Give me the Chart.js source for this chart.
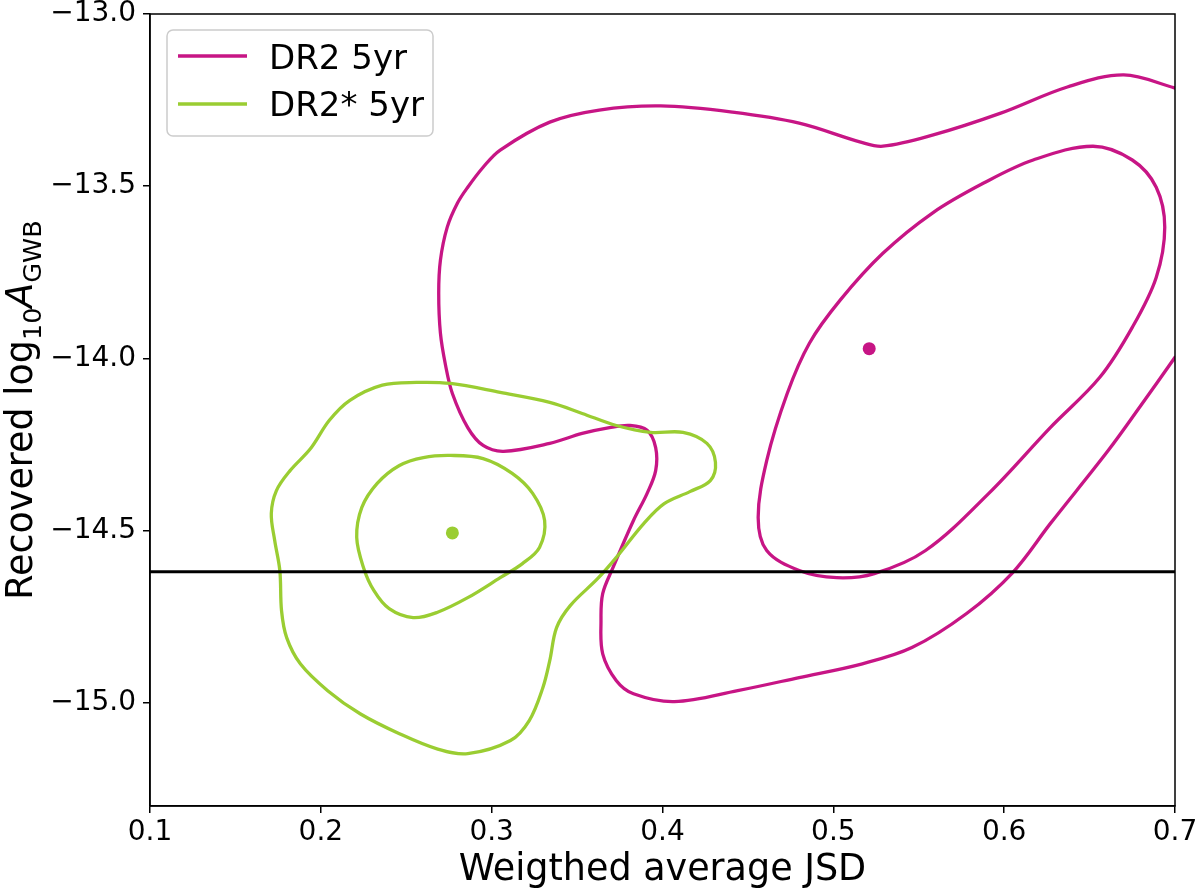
<!DOCTYPE html>
<html>
<head>
<meta charset="utf-8">
<script src="https://cdn.jsdelivr.net/npm/chart.js@4.4.1/dist/chart.umd.min.js"></script>
<style>
html, body { margin: 0; padding: 0; background: #fff; }
canvas { display: block; }
</style>
</head>
<body>
<canvas id="c" width="1200" height="896"></canvas>
<script>
// ---------------- data ----------------
const seriesNames = ['DR2 5yr', 'DR2* 5yr'];
const seriesColors = ['#c71585', '#9acd32'];
const xLimits = [0.1, 0.7];
const yLimits = [-15.3, -13.0];
const xTicks = [0.1, 0.2, 0.3, 0.4, 0.5, 0.6, 0.7];
const yTicks = [-15.0, -14.5, -14.0, -13.5, -13.0];
const xTitle = 'Weigthed average JSD';
const refLevel = -14.62;

// peak (maximum-likelihood) points
const dr2Peak  = [[0.521, -13.972]];
const dr2sPeak = [[0.277, -14.507]];

// DR2 5yr: inner contour (closed)
const dr2Inner = [
  [0.652,-13.384],[0.675,-13.424],[0.689,-13.503],[0.694,-13.619],[0.689,-13.765],
  [0.675,-13.910],[0.656,-14.055],[0.627,-14.201],[0.591,-14.392],[0.554,-14.558],
  [0.524,-14.625],[0.502,-14.637],[0.480,-14.616],[0.461,-14.558],[0.456,-14.462],
  [0.461,-14.297],[0.473,-14.102],[0.486,-13.956],[0.504,-13.831],[0.529,-13.695],
  [0.558,-13.578],[0.588,-13.491],[0.617,-13.424]
];
// DR2 5yr: outer contour (runs off the right edge of the axes)
const dr2Outer = [
  [0.700,-13.215],[0.670,-13.177],[0.637,-13.212],[0.598,-13.288],[0.558,-13.352],
  [0.529,-13.384],[0.516,-13.372],[0.480,-13.317],[0.441,-13.285],[0.399,-13.267],
  [0.363,-13.279],[0.334,-13.314],[0.305,-13.395],[0.295,-13.445],[0.286,-13.503],
  [0.280,-13.549],[0.274,-13.619],
  [0.270,-13.715],[0.269,-13.811],[0.270,-13.927],[0.273,-14.020],[0.277,-14.102],
  [0.286,-14.201],[0.295,-14.253],[0.307,-14.270],[0.334,-14.247],[0.353,-14.218],
  [0.369,-14.201],[0.381,-14.195],[0.391,-14.209],[0.396,-14.259],[0.396,-14.326],
  [0.391,-14.392],[0.383,-14.471],[0.371,-14.608],[0.365,-14.683],[0.364,-14.762],
  [0.365,-14.858],[0.373,-14.936],[0.383,-14.974],[0.407,-14.997],[0.444,-14.965],[0.480,-14.927],
  [0.517,-14.887],[0.546,-14.840],[0.578,-14.741],[0.605,-14.622],[0.627,-14.480],
  [0.661,-14.267],[0.680,-14.137],[0.700,-13.997]
];
// DR2* 5yr: inner contour (closed)
const dr2sInner = [
  [0.276,-14.282],[0.295,-14.291],[0.312,-14.334],[0.324,-14.392],[0.331,-14.471],
  [0.328,-14.549],[0.318,-14.596],[0.305,-14.637],[0.286,-14.695],[0.268,-14.738],
  [0.254,-14.753],[0.240,-14.727],[0.231,-14.674],[0.225,-14.608],[0.221,-14.520],
  [0.224,-14.433],[0.233,-14.363],[0.246,-14.311],[0.260,-14.288]
];
// DR2* 5yr: outer contour (closed)
const dr2sOuter = [
  [0.256,-14.070],[0.276,-14.073],[0.305,-14.099],[0.334,-14.128],[0.353,-14.160],
  [0.373,-14.195],[0.393,-14.215],[0.412,-14.215],[0.426,-14.247],[0.431,-14.302],
  [0.428,-14.355],[0.416,-14.387],[0.401,-14.422],[0.389,-14.480],[0.373,-14.578],
  [0.362,-14.640],[0.346,-14.718],[0.338,-14.782],[0.334,-14.878],[0.330,-14.956],
  [0.322,-15.052],[0.311,-15.110],[0.286,-15.148],[0.268,-15.134],[0.246,-15.090],
  [0.223,-15.032],[0.204,-14.965],[0.188,-14.887],[0.180,-14.811],[0.177,-14.733],
  [0.176,-14.616],[0.173,-14.529],[0.171,-14.451],[0.174,-14.384],[0.182,-14.326],
  [0.194,-14.262],[0.205,-14.180],[0.217,-14.122],[0.236,-14.078]
];

// ---------------- helpers ----------------
const toXY = arr => arr.map(p => ({ x: p[0], y: p[1] }));
const FONT = '"DejaVu Sans", "Liberation Sans", sans-serif';
const fmtSigned = v => (v < 0 ? '\u2212' : '') + Math.abs(v).toFixed(1);

function contour(data, color, closed) {
  return {
    data: toXY(data), closed: closed,
    borderColor: color, backgroundColor: color, borderWidth: 3.3,
    pointRadius: 0, pointHoverRadius: 0, tension: 0.35, fill: false,
    showLine: true, borderJoinStyle: 'round', borderCapStyle: 'round'
  };
}
function peak(data, color) {
  return {
    data: toXY(data), showLine: false, pointRadius: 6.5, pointHoverRadius: 6.5,
    pointBackgroundColor: color, pointBorderColor: color, pointBorderWidth: 0,
    borderColor: color, backgroundColor: color
  };
}

const datasets = [
  { data: [{ x: xLimits[0], y: refLevel }, { x: xLimits[1], y: refLevel }],
    borderColor: '#000', borderWidth: 3, pointRadius: 0, tension: 0, fill: false },
  peak(dr2sPeak, seriesColors[1]),
  peak(dr2Peak, seriesColors[0]),
  contour(dr2sInner, seriesColors[1], true),
  contour(dr2sOuter, seriesColors[1], true),
  contour(dr2Inner, seriesColors[0], true),
  contour(dr2Outer, seriesColors[0], false)
];

// ---------------- plugins ----------------
const closeLoops = {
  id: 'closeLoops',
  afterDatasetUpdate(chart, args) {
    const ds = chart.data.datasets[args.index];
    const line = args.meta.dataset;
    if (ds.closed && line) { line._loop = true; line._fullLoop = true; }
  }
};

function roundRect(ctx, x, y, w, h, r) {
  ctx.beginPath();
  ctx.moveTo(x + r, y);
  ctx.arcTo(x + w, y, x + w, y + h, r);
  ctx.arcTo(x + w, y + h, x, y + h, r);
  ctx.arcTo(x, y + h, x, y, r);
  ctx.arcTo(x, y, x + w, y, r);
  ctx.closePath();
}

const decorations = {
  id: 'decorations',
  afterDatasetsDraw(chart) {
    const { ctx, chartArea: a } = chart;
    ctx.save();
    ctx.strokeStyle = '#000';
    ctx.lineWidth = 1.5;
    ctx.strokeRect(a.left, a.top, a.right - a.left, a.bottom - a.top);
    ctx.restore();
  },
  afterDraw(chart) {
    const { ctx, chartArea: a } = chart;
    // legend inside the axes (upper left)
    ctx.save();
    const bx = a.left + 17, by = a.top + 16, bw = 266, bh = 106;
    roundRect(ctx, bx, by, bw, bh, 6);
    ctx.fillStyle = 'rgba(255,255,255,0.8)';
    ctx.fill();
    ctx.strokeStyle = '#cccccc';
    ctx.lineWidth = 1.5;
    ctx.stroke();
    ctx.font = '34px ' + FONT;
    ctx.textAlign = 'left';
    ctx.textBaseline = 'alphabetic';
    seriesNames.forEach((name, i) => {
      const ly = a.top + 42 + i * 48;
      ctx.beginPath();
      ctx.moveTo(a.left + 28, ly);
      ctx.lineTo(a.left + 97, ly);
      ctx.strokeStyle = seriesColors[i];
      ctx.lineWidth = 3.3;
      ctx.stroke();
      ctx.fillStyle = '#000';
      ctx.fillText(name, a.left + 119, a.top + 55 + i * 47);
    });
    ctx.restore();

    // y-axis title with sub-scripts: Recovered log10 A_GWB
    const cy = (a.top + a.bottom) / 2;
    const parts = [
      { t: 'Recovered log', f: '36.5px ' + FONT, dy: 0 },
      { t: '10', f: '25.5px ' + FONT, dy: 9 },
      { t: 'A', f: 'italic 36.5px ' + FONT, dy: 0 },
      { t: 'GWB', f: '25.5px ' + FONT, dy: 9 }
    ];
    ctx.save();
    ctx.translate(32, cy);
    ctx.rotate(-Math.PI / 2);
    let total = 0;
    parts.forEach(p => { ctx.font = p.f; p.w = ctx.measureText(p.t).width; total += p.w; });
    let x = -total / 2;
    ctx.fillStyle = '#000';
    ctx.textAlign = 'left';
    ctx.textBaseline = 'alphabetic';
    parts.forEach(p => { ctx.font = p.f; ctx.fillText(p.t, x, p.dy); x += p.w; });
    ctx.restore();
  }
};

// ---------------- chart ----------------
new Chart(document.getElementById('c'), {
  type: 'line',
  data: { datasets: datasets },
  plugins: [closeLoops, decorations],
  options: {
    responsive: false,
    devicePixelRatio: 1,
    animation: false,
    events: [],
    layout: { padding: { left: 0, right: 25, top: 14, bottom: 0 } },
    plugins: { legend: { display: false }, tooltip: { enabled: false } },
    scales: {
      x: {
        type: 'linear', min: xLimits[0], max: xLimits[1],
        afterBuildTicks: s => { s.ticks = xTicks.map(v => ({ value: v })); },
        afterFit: s => { s.height = 90; s.paddingLeft = 0; s.paddingRight = 0; },
        ticks: { font: { family: FONT, size: 28 }, color: '#000', padding: 3,
                 maxRotation: 0, autoSkip: false, callback: v => v.toFixed(1) },
        grid: { display: true, drawOnChartArea: false, drawTicks: true, tickLength: 7,
                color: '#000', lineWidth: 1.5 },
        border: { display: true, color: '#000', width: 1.5 },
        title: { display: true, text: xTitle, color: '#000',
                 font: { family: FONT, size: 36.5, lineHeight: 1.2 },
                 padding: { top: 0, bottom: 4 } }
      },
      y: {
        type: 'linear', min: yLimits[0], max: yLimits[1],
        afterBuildTicks: s => { s.ticks = yTicks.map(v => ({ value: v })); },
        afterFit: s => { s.width = 150; s.paddingTop = 0; s.paddingBottom = 0; },
        ticks: { font: { family: FONT, size: 28 }, color: '#000', padding: 7,
                 autoSkip: false, callback: v => fmtSigned(v) },
        grid: { display: true, drawOnChartArea: false, drawTicks: true, tickLength: 7,
                color: '#000', lineWidth: 1.5 },
        border: { display: true, color: '#000', width: 1.5 },
        title: { display: false }
      }
    }
  }
});
</script>
</body>
</html>
